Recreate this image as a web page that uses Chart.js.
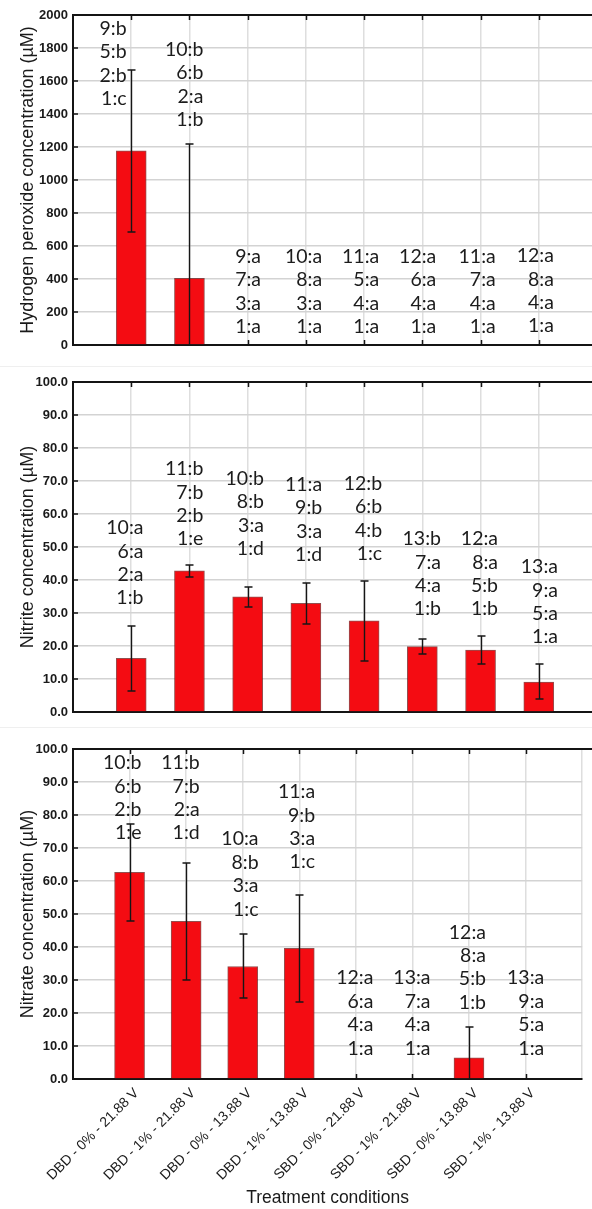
<!DOCTYPE html>
<html>
<head>
<meta charset="utf-8">
<script src="https://cdn.jsdelivr.net/npm/chart.js@4/dist/chart.umd.min.js"></script>
<style>
  html, body { margin: 0; padding: 0; background: #fff; width: 592px; height: 1209px; overflow: hidden; position: relative; }
  canvas { position: absolute; left: 0; }
  .sep { position: absolute; left: 0; width: 592px; height: 1px; background: #efefef; }
</style>
</head>
<body>
<canvas id="h2o2" width="600" height="360" style="top:0;width:600px;height:360px"></canvas>
<div class="sep" style="top:366px"></div>
<canvas id="nitrite" width="600" height="361" style="top:366px;width:600px;height:361px"></canvas>
<div class="sep" style="top:727px"></div>
<canvas id="nitrate" width="600" height="476" style="top:733px;width:600px;height:476px"></canvas>
<script>
// Treatment conditions (x axis)
const categories = [
  'DBD - 0% - 21.88 V', 'DBD - 1% - 21.88 V', 'DBD - 0% - 13.88 V', 'DBD - 1% - 13.88 V',
  'SBD - 0% - 21.88 V', 'SBD - 1% - 21.88 V', 'SBD - 0% - 13.88 V', 'SBD - 1% - 13.88 V'
];

// Hydrogen peroxide (µM): mean and standard deviation
const h2o2Mean = [1177, 404, 0, 0, 0, 0, 0, 0];
const h2o2Err  = [490, 812, 0, 0, 0, 0, 0, 0];

// Nitrite (µM)
const nitriteMean = [16.3, 42.8, 34.9, 32.9, 27.6, 19.8, 18.8, 9.1];
const nitriteErr  = [9.8, 1.8, 3.0, 6.3, 12.0, 2.3, 4.2, 5.3];

// Nitrate (µM)
const nitrateMean = [62.6, 47.8, 34.1, 39.6, 0, 0, 6.4, 0];
const nitrateErr  = [14.6, 17.7, 9.7, 16.2, 0, 0, 9.3, 0];

// Pairwise comparison letters per treatment
const h2o2Letters = [
  ['9:b', '5:b', '2:b', '1:c'], ['10:b', '6:b', '2:a', '1:b'], ['9:a', '7:a', '3:a', '1:a'], ['10:a', '8:a', '3:a', '1:a'],
  ['11:a', '5:a', '4:a', '1:a'], ['12:a', '6:a', '4:a', '1:a'], ['11:a', '7:a', '4:a', '1:a'], ['12:a', '8:a', '4:a', '1:a']
];
const nitriteLetters = [
  ['10:a', '6:a', '2:a', '1:b'], ['11:b', '7:b', '2:b', '1:e'], ['10:b', '8:b', '3:a', '1:d'], ['11:a', '9:b', '3:a', '1:d'],
  ['12:b', '6:b', '4:b', '1:c'], ['13:b', '7:a', '4:a', '1:b'], ['12:a', '8:a', '5:b', '1:b'], ['13:a', '9:a', '5:a', '1:a']
];
const nitrateLetters = [
  ['10:b', '6:b', '2:b', '1:e'], ['11:b', '7:b', '2:a', '1:d'], ['10:a', '8:b', '3:a', '1:c'], ['11:a', '9:b', '3:a', '1:c'],
  ['12:a', '6:a', '4:a', '1:a'], ['13:a', '7:a', '4:a', '1:a'], ['12:a', '8:a', '5:b', '1:b'], ['13:a', '9:a', '5:a', '1:a']
];

// Value level of the last letter line of each block
const h2o2LetterLevel    = [1491, 1364, 109, 109, 109, 109, 109, 115];
const nitriteLetterLevel = [34.5, 52.4, 49.4, 47.6, 47.9, 31.2, 31.2, 22.7];
const nitrateLetterLevel = [74.5, 74.5, 51.4, 65.7, 9.3, 9.3, 23.2, 9.3];

// Horizontal shift of each letter block's right edge, in category units
const h2o2LetterShift  = [-0.08, 0.24, 0.23, 0.28, 0.26, 0.24, 0.26, 0.26];
const otherLetterShift = [0.21, 0.24, 0.28, 0.28, 0.31, 0.32, 0.30, 0.33];

const BAR_RED = 'rgb(244, 12, 18)';
const BAR_EDGE = 'rgba(110, 20, 20, 0.75)';
const AXIS = '#141414';
const SANS = "'Liberation Sans', Arial, sans-serif";
const TICK_FONT = { family: SANS, size: 13, weight: 'bold' };
const LETTER_FONT = "19.5px Lato, 'Noto Sans', sans-serif";
const LINE_STEP = 23.4;

const crisp = v => Math.round(v) + 0.5;

// Frame: top border plus short inward ticks on the axes
const frame = {
  id: 'frame',
  beforeDatasetsDraw(chart) {
    const { ctx, chartArea: a, scales: { x, y } } = chart;
    ctx.save();
    ctx.strokeStyle = AXIS;
    ctx.lineWidth = 1.5;
    ctx.beginPath();
    for (let i = 1; i <= categories.length; i++) {
      const px = crisp(x.getPixelForValue(i));
      ctx.moveTo(px, a.top); ctx.lineTo(px, a.top + 5);
      ctx.moveTo(px, a.bottom); ctx.lineTo(px, a.bottom - 5);
    }
    y.ticks.forEach(t => {
      const py = Math.round(y.getPixelForValue(t.value));
      ctx.moveTo(a.left, py); ctx.lineTo(a.left + 5, py);
    });
    ctx.stroke();
    ctx.restore();
  },
  afterDraw(chart) {
    const { ctx, chartArea: a } = chart;
    ctx.save();
    ctx.strokeStyle = AXIS;
    ctx.lineWidth = 2;
    ctx.beginPath();
    ctx.moveTo(a.left - 1, a.top);
    ctx.lineTo(chart.width, a.top);
    ctx.stroke();
    ctx.restore();
  }
};

// Standard deviation whiskers, clipped at zero
const errorBars = {
  id: 'errorBars',
  afterDatasetsDraw(chart) {
    const ds = chart.data.datasets[0];
    const meta = chart.getDatasetMeta(0);
    const y = chart.scales.y;
    const ctx = chart.ctx;
    ctx.save();
    ctx.strokeStyle = '#161616';
    ctx.lineWidth = 1.4;
    meta.data.forEach((bar, i) => {
      const e = ds.errors[i];
      if (!e) return;
      const v = ds.data[i].y;
      const px = crisp(bar.x);
      const hi = Math.round(y.getPixelForValue(v + e));
      const lowVal = v - e;
      const lo = Math.round(y.getPixelForValue(Math.max(lowVal, 0)));
      ctx.beginPath();
      ctx.moveTo(px, hi); ctx.lineTo(px, lo);
      ctx.moveTo(px - 4, hi); ctx.lineTo(px + 4, hi);
      if (lowVal > 0) { ctx.moveTo(px - 4, lo); ctx.lineTo(px + 4, lo); }
      ctx.stroke();
    });
    ctx.restore();
  }
};

// Letter blocks above the bars
const letterBlocks = {
  id: 'letterBlocks',
  afterDraw(chart, args, opts) {
    const { ctx, scales: { x, y } } = chart;
    ctx.save();
    ctx.font = LETTER_FONT;
    ctx.fillStyle = '#1c1c1c';
    ctx.textAlign = 'right';
    ctx.textBaseline = 'middle';
    opts.letters.forEach((lines, i) => {
      const right = x.getPixelForValue(i + 1 + opts.shift[i]);
      const last = y.getPixelForValue(opts.level[i]);
      lines.forEach((s, j) => {
        ctx.fillText(s, right, last - (lines.length - 1 - j) * LINE_STEP);
      });
    });
    ctx.restore();
  }
};

function makePanel(id, p) {
  return new Chart(document.getElementById(id), {
    type: 'bar',
    data: {
      datasets: [{
        data: p.mean.map((v, i) => ({ x: i + 1, y: v })),
        errors: p.err,
        backgroundColor: BAR_RED,
        borderColor: BAR_EDGE,
        borderWidth: 1,
        borderSkipped: 'bottom',
        barThickness: 30
      }]
    },
    options: {
      responsive: false,
      animation: false,
      devicePixelRatio: 1,
      layout: { padding: { top: p.padTop, right: 3, left: 0, bottom: 0 } },
      plugins: {
        legend: { display: false },
        tooltip: { enabled: false },
        letterBlocks: { letters: p.letters, level: p.level, shift: p.shift }
      },
      scales: {
        x: {
          type: 'linear',
          offset: false,
          min: 0,
          max: categories.length + 1,
          afterFit: s => { s.height = p.xHeight; },
          grid: {
            offset: false,
            drawTicks: false,
            color: c => (c.tick && c.tick.value === 0) ? 'rgba(0,0,0,0)' : '#dedede',
            lineWidth: 1.5
          },
          border: { display: true, color: AXIS, width: 2 },
          ticks: {
            display: p.showCategories,
            stepSize: 1,
            autoSkip: false,
            maxRotation: 45,
            minRotation: 45,
            padding: 6,
            labelOffset: 7,
            color: '#1a1a1a',
            font: { family: SANS, size: 14 },
            callback: v => (v >= 1 && v <= categories.length) ? categories[v - 1] : ''
          },
          title: {
            display: p.showCategories,
            text: 'Treatment conditions',
            color: '#1a1a1a',
            font: { family: SANS, size: 17.5 },
            padding: { top: 1, bottom: 0 }
          }
        },
        y: {
          min: 0,
          max: p.max,
          afterFit: s => { s.width = 73; },
          grid: { drawTicks: false, color: '#d3d3d3', lineWidth: 1.5 },
          border: { display: true, color: AXIS, width: 2 },
          ticks: {
            stepSize: p.step,
            padding: 5,
            color: '#1a1a1a',
            font: TICK_FONT,
            callback: v => p.decimals ? v.toFixed(1) : String(v)
          },
          title: {
            display: true,
            text: p.title,
            color: '#1a1a1a',
            font: { family: SANS, size: 18 },
            padding: { top: 17, bottom: 0 }
          }
        }
      }
    },
    plugins: [frame, errorBars, letterBlocks]
  });
}

function build() {
  makePanel('h2o2', {
    mean: h2o2Mean, err: h2o2Err, letters: h2o2Letters, level: h2o2LetterLevel, shift: h2o2LetterShift,
    max: 2000, step: 200, decimals: false, padTop: 15, xHeight: 15, showCategories: false,
    title: 'Hydrogen peroxide concentration (µM)'
  });
  makePanel('nitrite', {
    mean: nitriteMean, err: nitriteErr, letters: nitriteLetters, level: nitriteLetterLevel, shift: otherLetterShift,
    max: 100, step: 10, decimals: true, padTop: 16, xHeight: 15, showCategories: false,
    title: 'Nitrite concentration (µM)'
  });
  makePanel('nitrate', {
    mean: nitrateMean, err: nitrateErr, letters: nitrateLetters, level: nitrateLetterLevel, shift: otherLetterShift,
    max: 100, step: 10, decimals: true, padTop: 16, xHeight: 130, showCategories: true,
    title: 'Nitrate concentration (µM)'
  });
}

const fontsReady = document.fonts
  ? Promise.all([document.fonts.load(LETTER_FONT), document.fonts.load("14px 'Liberation Sans'")]).catch(() => {})
  : Promise.resolve();
fontsReady.then(build);
</script>
</body>
</html>
